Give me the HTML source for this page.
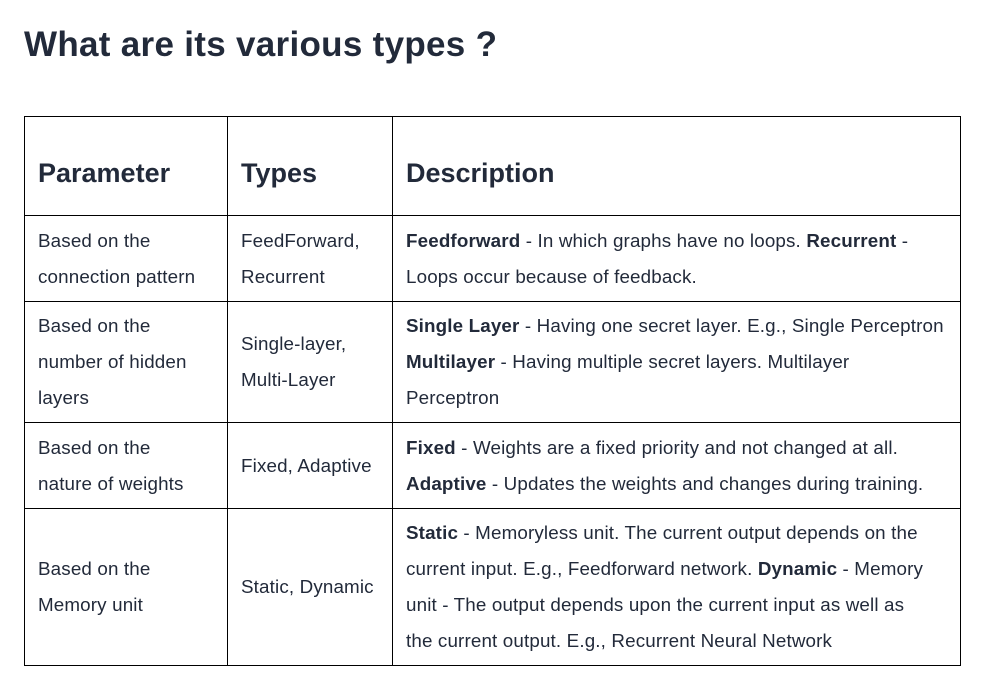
<!DOCTYPE html>
<html><head><style>
body{margin:0;background:#fff;width:986px;height:688px;overflow:hidden;font-family:"Liberation Sans",Arial,sans-serif;color:#222a3a}
h1{position:absolute;left:24px;top:23px;margin:0;font-size:35px;font-weight:bold;line-height:44px;letter-spacing:0.3px}
table{position:absolute;left:24px;top:116px;border-collapse:collapse;table-layout:fixed}
td,th{border:1px solid #000;padding:0 0 0 13px;vertical-align:middle;text-align:left;font-size:18.8px;letter-spacing:0.15px;line-height:36px;white-space:nowrap;font-weight:normal}
th{font-size:27px;font-weight:bold;padding-top:14px;letter-spacing:0}
b{font-weight:bold}
</style></head><body>
<h1>What are its various types ?</h1>
<table>
<colgroup><col style="width:203px"><col style="width:165px"><col style="width:568px"></colgroup>
<tr style="height:99px"><th>Parameter</th><th>Types</th><th>Description</th></tr>
<tr style="height:86px"><td>Based on the<br>connection pattern</td><td>FeedForward,<br>Recurrent</td><td><b>Feedforward</b> - In which graphs have no loops. <b>Recurrent</b> -<br>Loops occur because of feedback.</td></tr>
<tr style="height:121px"><td>Based on the<br>number of hidden<br>layers</td><td>Single-layer,<br>Multi-Layer</td><td><b>Single Layer</b> - Having one secret layer. E.g., Single Perceptron<br><b>Multilayer</b> - Having multiple secret layers. Multilayer<br>Perceptron</td></tr>
<tr style="height:86px"><td>Based on the<br>nature of weights</td><td>Fixed, Adaptive</td><td><b>Fixed</b> - Weights are a fixed priority and not changed at all.<br><b>Adaptive</b> - Updates the weights and changes during training.</td></tr>
<tr style="height:157px"><td>Based on the<br>Memory unit</td><td>Static, Dynamic</td><td><b>Static</b> - Memoryless unit. The current output depends on the<br>current input. E.g., Feedforward network. <b>Dynamic</b> - Memory<br>unit - The output depends upon the current input as well as<br>the current output. E.g., Recurrent Neural Network</td></tr>
</table>
</body></html>
